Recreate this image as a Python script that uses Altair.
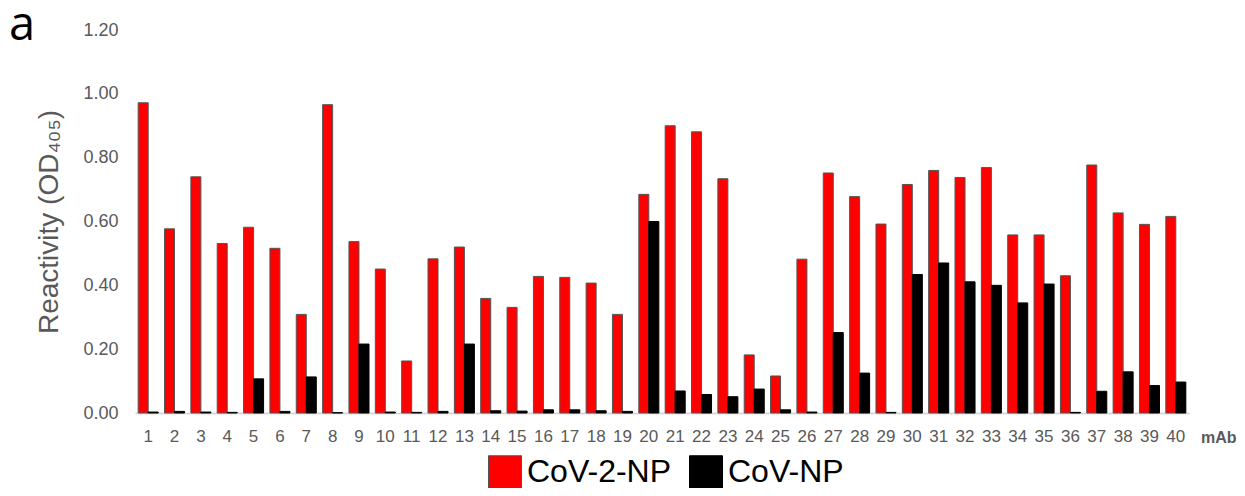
import altair as alt
import pandas as pd

mabs = [str(i) for i in range(1, 41)]
cov2_np = [0.972, 0.577, 0.740, 0.531, 0.582, 0.516, 0.309, 0.966, 0.537, 0.451,
           0.163, 0.483, 0.520, 0.359, 0.331, 0.428, 0.425, 0.407, 0.309, 0.685,
           0.900, 0.881, 0.734, 0.182, 0.116, 0.482, 0.752, 0.678, 0.592, 0.716,
           0.760, 0.738, 0.769, 0.558, 0.558, 0.430, 0.777, 0.627, 0.591, 0.616]
cov_np = [0.003, 0.005, 0.003, 0.002, 0.107, 0.005, 0.113, 0.001, 0.216, 0.003,
          0.002, 0.005, 0.216, 0.007, 0.006, 0.010, 0.010, 0.007, 0.005, 0.600,
          0.069, 0.058, 0.051, 0.075, 0.010, 0.003, 0.252, 0.125, 0.002, 0.434,
          0.470, 0.411, 0.400, 0.345, 0.404, 0.002, 0.068, 0.129, 0.086, 0.097]
series_names = ["CoV-2-NP", "CoV-NP"]
series_colors = ["#ff0000", "#000000"]
y_ticks = [0.0, 0.2, 0.4, 0.6, 0.8, 1.0, 1.2]

rows = []
for m, a, b in zip(mabs, cov2_np, cov_np):
    rows.append({"mAb": m, "series": series_names[0], "value": a})
    rows.append({"mAb": m, "series": series_names[1], "value": b})
df = pd.DataFrame(rows)

W, H = 1054, 383
FONT = "Liberation Sans"
GRAY = "#595959"

bars = alt.Chart(df).mark_bar(strokeWidth=1).encode(
    x=alt.X("mAb:N", sort=mabs,
            scale=alt.Scale(paddingInner=0.24, paddingOuter=0.12),
            axis=alt.Axis(title=None, labelAngle=0, ticks=False, domain=True,
                          domainColor="#d0d0d0", domainWidth=1.5,
                          labelFont=FONT, labelFontSize=17, labelColor=GRAY,
                          labelPadding=15)),
    xOffset=alt.XOffset("series:N", sort=series_names),
    y=alt.Y("value:Q",
            scale=alt.Scale(domain=[0, 1.2], nice=False),
            axis=alt.Axis(values=y_ticks, format=".2f", grid=False, ticks=False,
                          domain=False, labelFont=FONT, labelFontSize=18,
                          labelColor=GRAY, labelPadding=17,
                          title="Reactivity (OD₄₀₅)", titleFont=FONT,
                          titleFontSize=28, titleFontWeight="normal",
                          titleColor=GRAY, titleAngle=-90,
                          titleX=-86, titleY=H / 2, titleAlign="center",
                          titleBaseline="middle")),
    color=alt.Color("series:N", sort=series_names,
                    scale=alt.Scale(domain=series_names, range=series_colors),
                    legend=alt.Legend(title=None, orient="none", direction="horizontal",
                                      legendX=353, legendY=425,
                                      symbolType="square", symbolSize=1089,
                                      symbolStrokeColor="#333333", symbolStrokeWidth=1,
                                      symbolOpacity=1,
                                      labelFont=FONT, labelFontSize=32,
                                      labelColor="#000000", labelOffset=5,
                                      columnPadding=15, labelLimit=300)),
    stroke=alt.Stroke("series:N", sort=series_names,
                      scale=alt.Scale(domain=series_names, range=["#555555", "#000000"]),
                      legend=None),
)

label_a = alt.Chart(pd.DataFrame({"t": ["a"]})).mark_text(
    font="Open Sans", fontSize=47, align="left", baseline="alphabetic", color="#000000"
).encode(text="t:N", x=alt.value(-126), y=alt.value(10))

label_mab = alt.Chart(pd.DataFrame({"t": ["mAb"]})).mark_text(
    font=FONT, fontSize=16, fontWeight="bold", align="left", baseline="middle", color=GRAY
).encode(text="t:N", x=alt.value(1066), y=alt.value(408))

chart = alt.layer(bars, label_a, label_mab).properties(
    width=W, height=H,
    autosize=alt.AutoSizeParams(type="none"),
    padding={"left": 127, "top": 22, "right": 48, "bottom": 75},
).configure_view(stroke=None)

chart.save("out.html", embed_options={"renderer": "svg", "actions": False})
